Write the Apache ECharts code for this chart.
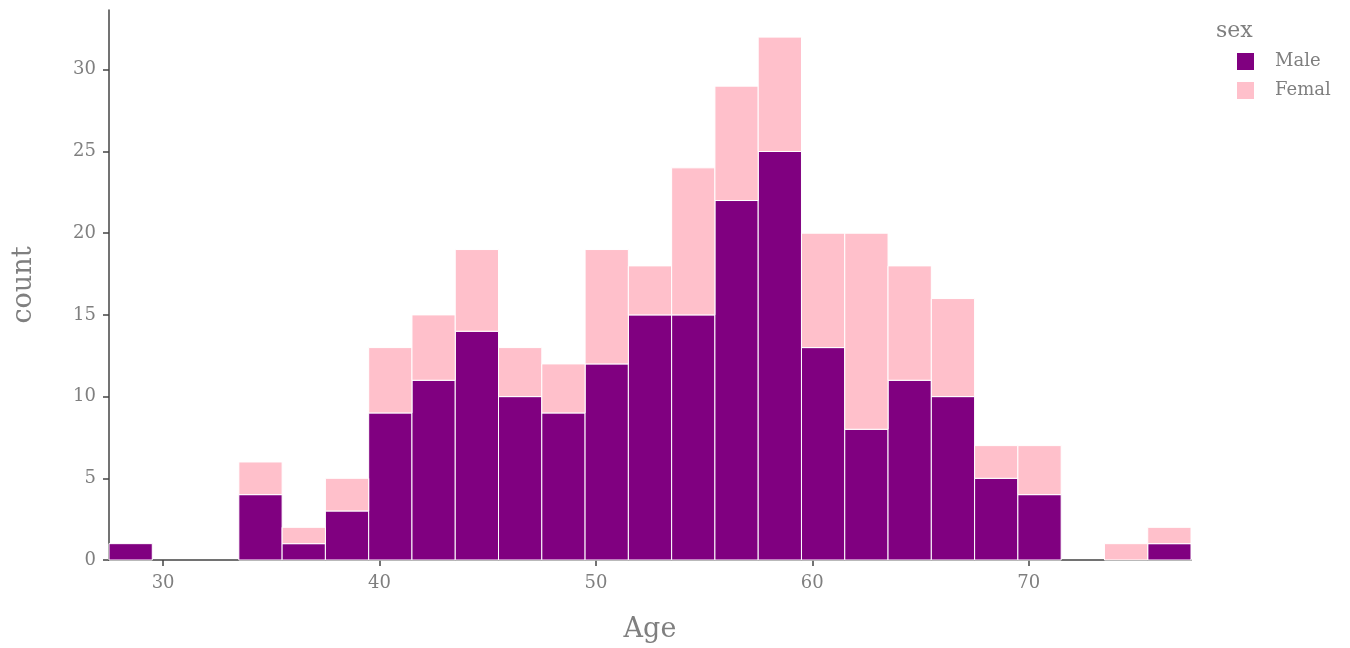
<!DOCTYPE html>
<html>
<head>
<meta charset="utf-8">
<script src="https://cdn.jsdelivr.net/npm/echarts@6/dist/echarts.min.js"></script>
<style>html,body{margin:0;padding:0;background:#fff}#c{width:1350px;height:648px}</style>
</head>
<body>
<div id="c"></div>
<script>
// Bin edges (start of each 2-year bin) and counts
const binStarts = [27.5,29.5,31.5,33.5,35.5,37.5,39.5,41.5,43.5,45.5,47.5,49.5,51.5,53.5,55.5,57.5,59.5,61.5,63.5,65.5,67.5,69.5,71.5,73.5,75.5];
const binWidth = 2;
const maleCounts   = [1,0,0,4,1,3,9,11,14,10,9,12,15,15,22,25,13,8,11,10,5,4,0,0,1];
const femaleCounts = [0,0,0,2,1,2,4,4,5,3,3,7,3,9,7,7,7,12,7,6,2,3,0,1,1];
const xTicks = [30,40,50,60,70];
const yTicks = [0,5,10,15,20,25,30];
const seriesNames = ['Male','Femal'];
const colors = ['#800080','#FFC0CB'];

const font = 'DejaVu Serif';
const gray = '#7f7f7f';

function makeData(vals, base) {
  return binStarts.map((s, i) => [s, s + binWidth, base ? base[i] : 0, (base ? base[i] : 0) + vals[i]]);
}
const maleData = makeData(maleCounts, null);
const femData = makeData(femaleCounts, maleCounts);

function renderItem(params, api) {
  const x0 = api.value(0), x1 = api.value(1), y0 = api.value(2), y1 = api.value(3);
  if (y1 - y0 <= 0) return null;
  const p0 = api.coord([x0, y0]);
  const p1 = api.coord([x1, y1]);
  return {
    type: 'rect',
    shape: { x: p0[0], y: p1[1], width: p1[0] - p0[0], height: p0[1] - p1[1] },
    style: { fill: api.visual('color'), stroke: '#ffffff', lineWidth: 1 }
  };
}

const chart = echarts.init(document.getElementById('c'), null, {renderer: 'canvas'});
chart.setOption({
  animation: false,
  backgroundColor: '#ffffff',
  title: {
    text: 'sex', left: 1216, top: 20, padding: 0,
    textStyle: { fontFamily: font, fontSize: 22, fontWeight: 'normal', color: gray }
  },
  legend: {
    orient: 'vertical', left: 1237, top: 52.5, padding: 0,
    itemWidth: 17, itemHeight: 17, itemGap: 11,
    icon: 'rect',
    data: seriesNames,
    textStyle: { fontFamily: font, fontSize: 18, color: gray, padding: [0,0,0,16] }
  },
  grid: { left: 109, right: 159, top: 10, bottom: 85, containLabel: false },
  xAxis: {
    type: 'value', min: 27.5, max: 77.5,
    name: 'Age', nameLocation: 'middle', nameGap: 56,
    nameTextStyle: { fontFamily: font, fontSize: 27, color: gray },
    axisLine: { show: true, lineStyle: { color: '#444', width: 1.5 } },
    axisTick: { show: true, length: 6, lineStyle: { color: '#444', width: 1.5 }, customValues: xTicks },
    axisLabel: { fontFamily: font, fontSize: 18, color: gray, margin: 14, customValues: xTicks },
    splitLine: { show: false }
  },
  yAxis: {
    type: 'value', min: 0, max: 33.66,
    name: 'count', nameLocation: 'middle', nameGap: 72, nameRotate: 90,
    nameTextStyle: { fontFamily: font, fontSize: 27, color: gray },
    axisLine: { show: true, lineStyle: { color: '#444', width: 1.5 } },
    axisTick: { show: true, length: 6, lineStyle: { color: '#444', width: 1.5 }, customValues: yTicks },
    axisLabel: { fontFamily: font, fontSize: 18, color: gray, margin: 13, customValues: yTicks },
    splitLine: { show: false }
  },
  series: [
    { name: seriesNames[0], type: 'custom', renderItem, itemStyle: { color: colors[0] },
      encode: { x: [0,1], y: [2,3] }, data: maleData },
    { name: seriesNames[1], type: 'custom', renderItem, itemStyle: { color: colors[1] },
      encode: { x: [0,1], y: [2,3] }, data: femData }
  ]
});
</script>
</body>
</html>
